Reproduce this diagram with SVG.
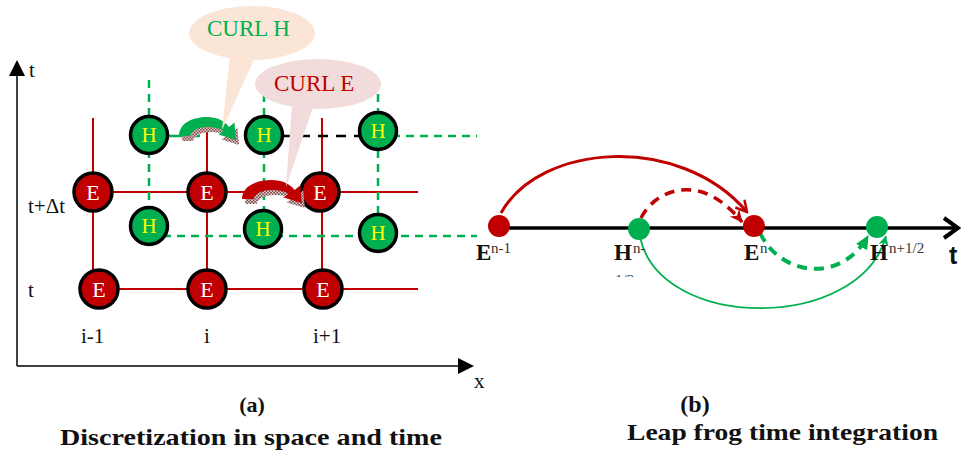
<svg xmlns="http://www.w3.org/2000/svg" width="961" height="457" viewBox="0 0 961 457">
<style>
.serif{font-family:"Liberation Serif","Times New Roman",serif}
.lbl{font-family:"Liberation Serif","Times New Roman",serif;font-size:21px;fill:#111}
.cap{font-family:"Liberation Serif","Times New Roman",serif;font-weight:bold;fill:#111}
.rline{stroke:#c00000;stroke-width:2;fill:none}
.gdash{stroke:#00b050;stroke-width:2.5;stroke-dasharray:8 6;fill:none}
.ecirc{fill:#c00000;stroke:#000;stroke-width:3.5}
.hcirc{fill:#00b050;stroke:#000;stroke-width:3.5}
.etxt{font-family:"Liberation Serif","Times New Roman",serif;font-size:22px;fill:#fff;text-anchor:middle}
.htxt{font-family:"Liberation Serif","Times New Roman",serif;font-size:21px;fill:#ffff00;text-anchor:middle}
.big{font-family:"Liberation Serif","Times New Roman",serif;font-weight:bold;font-size:23px;fill:#111}
.sup{font-family:"Liberation Serif","Times New Roman",serif;font-size:15px;fill:#333}
</style>
<defs>
<pattern id="hatch" width="3" height="3" patternUnits="userSpaceOnUse">
<rect width="3" height="3" fill="#e6d4d4"/>
<rect width="1.5" height="1.5" fill="#7a4545"/>
<rect x="1.5" y="1.5" width="1.5" height="1.5" fill="#7a4545"/>
</pattern>
<path id="curl" d="M0,0 C0,-13 14,-19 28,-19 C38,-19 46,-15 50,-9 L55.5,-13.5 L57,4 L39.5,-1.5 L44,-5 C41,-8 35,-9 28,-9 C19,-9 12,-5 11,0 Z"/>
<marker id="openR" viewBox="0 0 14 14" refX="12" refY="7" markerWidth="14" markerHeight="14" markerUnits="userSpaceOnUse" orient="auto">
<path d="M1,1 L12,7 L1,13" fill="none" stroke="#c00000" stroke-width="2.5"/>
</marker>
<marker id="fillR" viewBox="0 0 14 14" refX="12" refY="7" markerWidth="14" markerHeight="14" markerUnits="userSpaceOnUse" orient="auto">
<path d="M0,1 L13,7 L0,13 L4,7 Z" fill="#c00000"/>
</marker>
<marker id="fillG" viewBox="0 0 14 14" refX="12" refY="7" markerWidth="15" markerHeight="15" markerUnits="userSpaceOnUse" orient="auto">
<path d="M0,1 L13,7 L0,13 Z" fill="#00b050"/>
</marker>
<marker id="openG" viewBox="0 0 14 14" refX="12" refY="7" markerWidth="12" markerHeight="12" markerUnits="userSpaceOnUse" orient="auto">
<path d="M1,1 L12,7 L1,13 L4,7 Z" fill="#00b050"/>
</marker>
<clipPath id="clipHalf"><rect x="600" y="0" width="100" height="277"/></clipPath>
</defs>

<!-- Panel (a): axes -->
<g id="axes-a">
<line x1="17" y1="74" x2="17" y2="366" stroke="#000" stroke-width="1.5"/>
<polygon points="17,60 9,76 25,76" fill="#000"/>
<line x1="17" y1="366" x2="460" y2="366" stroke="#000" stroke-width="1.5"/>
<polygon points="474,366 458,358 458,374" fill="#000"/>
<text class="lbl" x="29" y="77" font-size="22">t</text>
<text class="lbl" x="474" y="388">x</text>
</g>

<!-- Panel (a): grid connectors -->
<g id="connectors-a">
<line class="rline" x1="93" y1="118" x2="93" y2="272"/>
<line class="rline" x1="207" y1="118" x2="207" y2="289"/>
<line class="rline" x1="322" y1="118" x2="322" y2="289"/>
<line class="rline" x1="93" y1="192" x2="418" y2="192"/>
<line class="rline" x1="99" y1="289" x2="418" y2="289"/>
<line class="gdash" x1="149" y1="80" x2="149" y2="226"/>
<line class="gdash" x1="264" y1="80" x2="264" y2="229"/>
<line class="gdash" x1="378" y1="80" x2="378" y2="233"/>
<line x1="149" y1="136" x2="200" y2="136" stroke="#00b050" stroke-width="2.5"/>
<line x1="264" y1="136" x2="378" y2="136" stroke="#000" stroke-width="2.5" stroke-dasharray="10 8"/>
<line class="gdash" x1="378" y1="136" x2="477" y2="136"/>
<line class="gdash" x1="149" y1="236" x2="477" y2="236"/>
</g>

<!-- Panel (a): nodes -->
<g id="E-top-1"><circle class="ecirc" cx="93" cy="192" r="19"/><text class="etxt" x="93" y="200">E</text></g>
<g id="E-top-2"><circle class="ecirc" cx="207" cy="192" r="19"/><text class="etxt" x="207" y="200">E</text></g>
<g id="E-top-3"><circle class="ecirc" cx="320" cy="192" r="19"/><text class="etxt" x="320" y="200">E</text></g>
<g id="E-bot-1"><circle class="ecirc" cx="99" cy="289" r="19"/><text class="etxt" x="99" y="297">E</text></g>
<g id="E-bot-2"><circle class="ecirc" cx="207" cy="289" r="19"/><text class="etxt" x="207" y="297">E</text></g>
<g id="E-bot-3"><circle class="ecirc" cx="323" cy="289" r="19"/><text class="etxt" x="323" y="297">E</text></g>
<g id="H-top-1"><circle class="hcirc" cx="149" cy="135" r="18.5"/><text class="htxt" x="149" y="142">H</text></g>
<g id="H-top-2"><circle class="hcirc" cx="264" cy="135" r="18.5"/><text class="htxt" x="264" y="142">H</text></g>
<g id="H-top-3"><circle class="hcirc" cx="378" cy="131" r="18.5"/><text class="htxt" x="378" y="138">H</text></g>
<g id="H-bot-1"><circle class="hcirc" cx="149" cy="226" r="18.5"/><text class="htxt" x="149" y="233">H</text></g>
<g id="H-bot-2"><circle class="hcirc" cx="263" cy="229" r="18.5"/><text class="htxt" x="263" y="236">H</text></g>
<g id="H-bot-3"><circle class="hcirc" cx="378" cy="233" r="18.5"/><text class="htxt" x="378" y="240">H</text></g>

<!-- Curl arrows -->
<g id="curl-arrow-H">
<use href="#curl" transform="translate(182,141)" fill="url(#hatch)"/>
<use href="#curl" transform="translate(179,136)" fill="#00b050"/>
</g>
<g id="curl-arrow-E">
<use href="#curl" transform="translate(245,204) scale(1.05,1)" fill="url(#hatch)"/>
<use href="#curl" transform="translate(242,199) scale(1.05,1)" fill="#c00000"/>
</g>

<!-- Callouts -->
<g id="callout-curl-h">
<ellipse cx="252" cy="33" rx="63" ry="27" fill="#fbe5d6"/>
<polygon points="230,55 256,55 222,130" fill="#fbe5d6"/>
<text class="serif" x="207" y="36" font-size="23" fill="#00b050">CURL H</text>
</g>
<g id="callout-curl-e">
<ellipse cx="318" cy="84" rx="63" ry="25" fill="#f2dcdb"/>
<polygon points="292,104 314,104 286,187" fill="#f2dcdb"/>
<text class="serif" x="274" y="91" font-size="23" fill="#c00000">CURL E</text>
</g>

<!-- Panel (a) labels -->
<g id="labels-a">
<text class="lbl" x="28" y="213" font-size="22">t+Δt</text>
<text class="lbl" x="28" y="297" font-size="22">t</text>
<text class="lbl" x="81" y="343">i-1</text>
<text class="lbl" x="207" y="343" text-anchor="middle">i</text>
<text class="lbl" x="313" y="343">i+1</text>
<text class="cap" x="252" y="412" font-size="22" text-anchor="middle">(a)</text>
<text class="cap" x="60" y="445" font-size="23" textLength="382" lengthAdjust="spacingAndGlyphs">Discretization in space and time</text>
</g>

<!-- Panel (b) -->
<g id="axis-b">
<line x1="499" y1="228" x2="956" y2="228" stroke="#000" stroke-width="3.5"/>
<polyline points="944,218 958,228 944,238" fill="none" stroke="#000" stroke-width="4"/>
<text x="949" y="264" font-family="Liberation Sans, Arial, sans-serif" font-weight="bold" font-size="25" fill="#111">t</text>
</g>
<g id="connectors-b">
<path d="M501,213 C540,143 680,133 747,212" fill="none" stroke="#c00000" stroke-width="3" marker-end="url(#openR)"/>
<path d="M641,218 C655,190 700,170 742,222" fill="none" stroke="#c00000" stroke-width="3.5" stroke-dasharray="10 7" marker-end="url(#fillR)"/>
<path d="M760,233 C780,275 840,285 868,236" fill="none" stroke="#00b050" stroke-width="4" stroke-dasharray="10 7" marker-end="url(#fillG)"/>
<path d="M640,237 C660,332 860,332 886,236" fill="none" stroke="#00b050" stroke-width="1.8" marker-end="url(#openG)"/>
</g>
<g id="E-n-1"><circle cx="499" cy="226" r="11" fill="#c00000"/>
<text class="big" x="476" y="260">E</text><text class="sup" x="491" y="253">n-1</text></g>
<g id="H-n-half"><circle cx="639" cy="229" r="11" fill="#00b050"/>
<text class="big" x="614" y="260">H</text><text class="sup" x="633" y="253">n-</text>
<text class="sup" x="615" y="285" clip-path="url(#clipHalf)">1/2</text></g>
<g id="E-n"><circle cx="754" cy="226" r="11" fill="#c00000"/>
<text class="big" x="744" y="260">E</text><text class="sup" x="760" y="253">n</text></g>
<g id="H-n-plus-half"><circle cx="877" cy="227" r="11" fill="#00b050"/>
<text class="big" x="870" y="260">H</text><text class="sup" x="889" y="253" font-size="16">n+1/2</text></g>
<g id="labels-b">
<text class="cap" x="695" y="412" font-size="24" text-anchor="middle">(b)</text>
<text class="cap" x="627" y="440" font-size="23" textLength="311" lengthAdjust="spacingAndGlyphs">Leap frog time integration</text>
</g>
</svg>
